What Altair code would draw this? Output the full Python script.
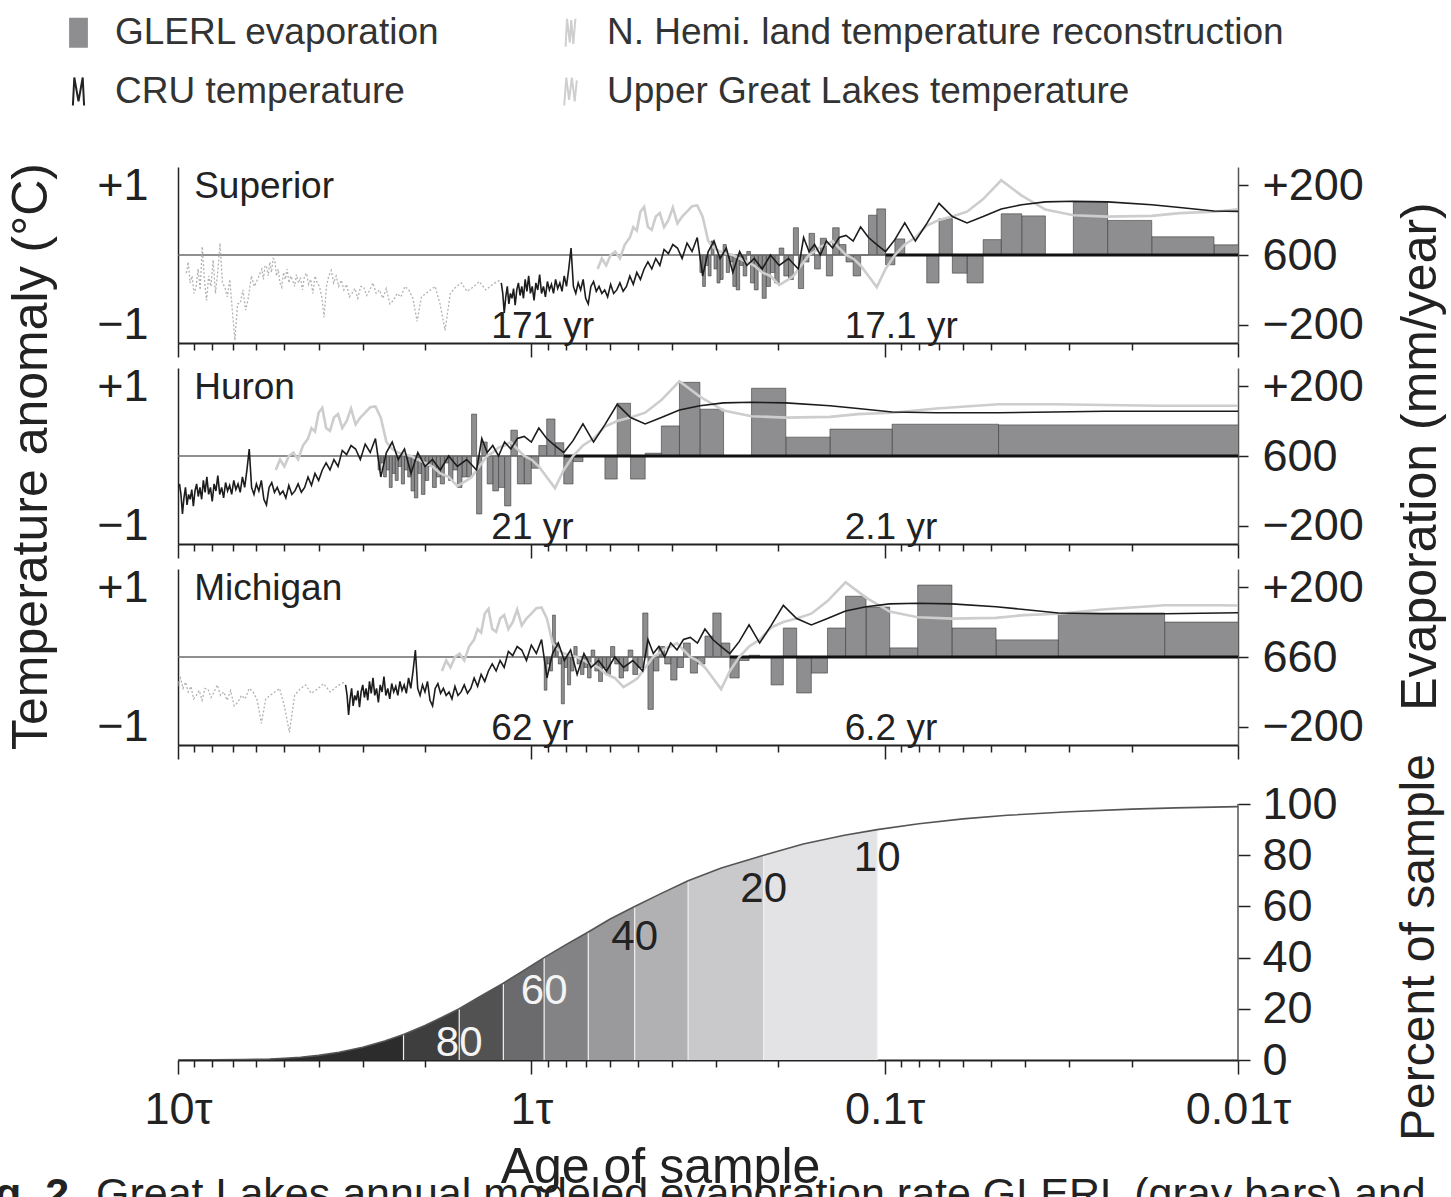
import altair as alt
import pandas as pd

FONT = "Liberation Sans"
INK = "#222222"

# ---------------- data ----------------
LAKES = ["Superior", "Huron", "Michigan"]
TAU_YR = [171, 21, 62]          # residence time (yr) of each lake
MEAN_EVAP = [600, 600, 660]     # mean evaporation (mm/year)

# CRU temperature anomaly (deg C) : (age in years, value)
CRU = [(208,-0.40),(206,-0.55),(204,-0.83),(202,-0.60),(200,-0.45),(198,-0.70),(196,-0.55),(194,-0.62),
       (192,-0.48),(190,-0.72),(188,-0.50),(186,-0.40),(184,-0.58),(182,-0.45),(180,-0.62),(178,-0.35),
       (176,-0.52),(174,-0.30),(172,-0.55),(170,-0.45),(168,-0.65),(166,-0.40),(164,-0.50),(162,-0.28),
       (160,-0.55),(158,-0.45),(156,-0.60),(154,-0.38),(152,-0.50),(150,-0.42),(148,-0.55),(146,-0.35),
       (144,-0.48),(142,-0.40),(140,-0.52),(138,-0.30),(136,-0.45),(134,-0.20),(132,0.10),(130,-0.45),
       (128,-0.55),(126,-0.40),(124,-0.50),(122,-0.35),(120,-0.62),(118,-0.70),(116,-0.45),(114,-0.38),
       (112,-0.52),(110,-0.45),(108,-0.55),(106,-0.50),(104,-0.60),(102,-0.42),(100,-0.55),(98,-0.50),
       (96,-0.40),(94,-0.52),(92,-0.45),(90,-0.30),(88,-0.42),(86,-0.25),(84,-0.35),(82,-0.20),
       (80,-0.10),(78,-0.20),(76,-0.05),(74,-0.15),(72,0.08),(70,0.02),(68,0.15),(66,0.10),
       (64,-0.05),(62,0.17),(60,0.05),(58,0.25),(56,-0.30),(54,0.05),(52,0.20),(50,-0.05),
       (48,0.10),(46,-0.25),(44,0.05),(42,-0.15),(40,-0.05),(38,-0.20),(36,0.00),(34,-0.15),
       (32,-0.05),(30,-0.20),(29,0.25),(28,0.05),(27,0.15),(26,0.00),(25,0.20),(24,0.10),
       (23,0.25),(22,0.28),(21,0.20),(20,0.40),(19,0.25),(18,0.15),(17,0.05),(16,0.22),
       (15,0.46),(14,0.20),(13,0.45),(12,0.74),(11,0.55),(10,0.46),(9,0.55),(8,0.66),
       (7,0.72),(6,0.76),(5,0.77),(4,0.76),(3,0.72),(2.5,0.68),(2,0.63),(1.5,0.62),
       (1,0.62),(0.7,0.63),(0.5,0.64),(0.35,0.64),(0.21,0.64)]

# Upper Great Lakes temperature anomaly (deg C)
UGL = [(111,-0.20),(108,-0.05),(105,-0.15),(102,0.00),(99,0.05),(96,-0.05),(93,0.15),(90,0.25),
       (88,0.40),(86,0.35),(84,0.62),(82,0.69),(80,0.40),(78,0.36),(76,0.55),(74,0.60),
       (72,0.40),(70,0.50),(68,0.68),(66,0.45),(64,0.55),(62,0.62),(60,0.70),(58,0.71),
       (56,0.55),(54,0.20),(52,0.10),(50,0.05),(48,0.02),(46,0.00),(44,-0.05),(42,-0.10),
       (40,-0.15),(38,-0.25),(36,-0.30),(34,-0.43),(32,-0.35),(31,-0.30),(30,-0.20),(29,-0.10),
       (28,0.00),(27,0.05),(26,0.12),(25,0.15),(24,0.20),(23,0.10),(22,0.00),(21,-0.05),
       (20,-0.15),(19,-0.30),(18,-0.46),(17,-0.20),(16,0.00),(15,0.15),(14,0.25),(13,0.42),
       (12,0.50),(11,0.55),(10,0.62),(9,0.80),(8,1.07),(7,0.85),(6,0.65),(5,0.57),
       (4,0.55),(3,0.56),(2.5,0.60),(2,0.62),(1.5,0.68),(1,0.74),(0.7,0.74),(0.5,0.73),
       (0.35,0.72),(0.21,0.72)]

# N. Hemisphere land temperature reconstruction (deg C)
NHEMI = [(1620,-0.26),(1600,-0.10),(1580,-0.40),(1560,-0.30),(1540,-0.55),(1520,-0.46),(1500,-0.20),
         (1480,-0.50),(1460,0.12),(1440,-0.35),(1420,-0.65),(1400,-0.30),(1380,-0.45),(1360,-0.07),
         (1340,-0.55),(1320,-0.25),(1300,0.17),(1280,-0.40),(1260,-0.46),(1240,-0.60),(1220,-0.35),
         (1200,-0.80),(1180,-1.22),(1160,-0.70),(1140,-0.69),(1120,-0.50),(1100,-0.79),(1080,-0.60),
         (1060,-0.30),(1040,-0.45),(1020,-0.36),(1000,-0.25),(990,-0.20),(980,-0.35),(970,-0.15),
         (960,-0.17),(950,-0.30),(940,-0.10),(930,-0.25),(920,-0.05),(910,-0.07),(900,-0.30),
         (890,-0.20),(880,-0.40),(870,-0.46),(860,-0.25),(850,-0.35),(840,-0.20),(830,-0.40),
         (820,-0.30),(810,-0.36),(800,-0.45),(790,-0.28),(780,-0.40),(770,-0.32),(760,-0.50),
         (750,-0.30),(740,-0.26),(730,-0.42),(720,-0.35),(710,-0.55),(700,-0.30),(690,-0.40),
         (680,-0.45),(670,-0.60),(660,-0.89),(650,-0.45),(640,-0.30),(630,-0.22),(620,-0.40),
         (610,-0.30),(600,-0.45),(590,-0.36),(580,-0.50),(570,-0.42),(560,-0.60),(550,-0.55),
         (540,-0.48),(530,-0.62),(520,-0.45),(510,-0.46),(500,-0.58),(490,-0.50),(480,-0.40),
         (470,-0.55),(460,-0.50),(450,-0.62),(440,-0.48),(430,-0.70),(420,-0.65),(410,-0.55),
         (400,-0.60),(390,-0.45),(380,-0.50),(370,-0.62),(360,-0.95),(350,-0.60),(340,-0.55),
         (330,-0.50),(320,-0.45),(310,-0.70),(300,-1.08),(290,-0.55),(280,-0.46),(270,-0.40),
         (260,-0.52),(250,-0.46),(240,-0.38),(230,-0.50),(220,-0.42),(210,-0.36)]

# GLERL evaporation anomaly (mm/year); entry k is the year of age k-1 .. k
GLERL = {
    "Superior": [20,29,52,99,151,0,112,118,44,-80,-52,104,-80,0,0,46,-28,132,114,0,
                 -60,-20,30,78,-60,48,-40,62,-20,-96,78,-70,-60,20,-80,-50,-90,-124,-40,-100,
                 -80,10,-60,-30,-100,-90,-20,-50,30,-70,-80,-40,40,-60,-30,-90,-50],
    "Huron":    [89,91,77,54,194,0,134,211,86,8,-66,151,-66,0,0,-16,-80,38,106,30,
                 -35,-80,-80,74,-143,-90,-100,-80,40,-166,120,-60,-60,-90,-40,-70,-20,-80,-60,-90,
                 -30,-70,-110,-50,-120,-100,-60,-40,-80,-30,-70,-50,-90,-40,-60,-20,-40],
    "Michigan": [100,126,49,83,206,26,143,174,83,-46,-103,83,-80,0,5,-10,-60,40,126,60,
                 -20,-46,40,-30,-66,-20,30,-40,-150,126,-30,-50,20,-40,-60,-20,30,-50,-30,-70,
                 -40,20,-60,-30,-50,-20,30,-40,-80,-30,-134,-20,40,120,-40,-20,-95],
}
FIRST_BAR_START_YR = 0.2
THICK_ZERO_FROM_AGE = 17

# cumulative percent of sample vs age of sample (in tau)
CURVE = [(10,0),(8,0.03),(6.5,0.15),(5.5,0.4),(5,0.7),(4.5,1.1),(4,1.8),(3.5,3),(3,5),(2.6,7.4),
         (2.3,10),(2,13.5),(1.8,16.5),(1.6,20),(1.4,24.7),(1.2,30),(1.05,35),(0.92,40),(0.8,45),
         (0.69,50),(0.6,55),(0.51,60),(0.43,65),(0.36,70),(0.29,75),(0.22,80),(0.17,84.4),
         (0.13,87.8),(0.105,90),(0.08,92.3),(0.06,94.2),(0.045,95.6),(0.03,97),(0.02,98),
         (0.015,98.5),(0.01,99)]
BAND_EDGES = [10, 2.3, 1.6, 1.2, 0.92, 0.69, 0.51, 0.36, 0.22, 0.105]
BAND_COLORS = ["#2c2c2c", "#3e3e3e", "#525252", "#6b6b6d", "#838385", "#9a9a9c",
               "#b1b1b3", "#c9c9cb", "#e3e3e5"]
PCT_LABELS = ["80", "60", "40", "20", "10"]
PCT_LABEL_T = [1.6, 0.92, 0.51, 0.22, 0.105]
PCT_LABEL_Y = [6.5, 27, 48, 67, 79]
PCT_LABEL_COLOR = ["#f4f4f4", "#f4f4f4", INK, INK, INK]

LEGEND_NAMES = ["GLERL evaporation", "N. Hemi. land temperature reconstruction",
                "CRU temperature", "Upper Great Lakes temperature"]
LEGEND_FILL = ["#8e8e90", "transparent", "transparent", "transparent"]
LEGEND_STROKE = ["#8e8e90", "#cfcfcf", "#222222", "#cfcfcf"]
LEGEND_SHAPES = ["M-0.6,-1L0.6,-1L0.6,1L-0.6,1Z",
                 "M-0.35,1L-0.25,-1L-0.05,0.7L0.05,-0.9L0.2,0.8L0.35,-1",
                 "M-0.4,1L-0.3,-1L0,0.7L0.3,-1L0.4,1",
                 "M-0.45,1L-0.3,-1L-0.1,0.6L0.1,-1L0.3,0.7L0.45,-0.8"]

CAPTION_BOLD = "Fig. 2."
CAPTION_TEXT = "Great Lakes annual modeled evaporation rate GLERL (gray bars) and"

# ---------------- scales / axes ----------------
W = 1060
PANEL_H = 176
BOTTOM_H = 290
LABEL_FS = 45
TITLE_FS = 50
XTICKS = [10] + [round(m * 10 ** e, 4) for e in (0, -1, -2) for m in range(9, 0, -1)]
DECADE_TEST = "indexof([10, 1, 0.1, 0.01], datum.value) >= 0"
XSCALE = alt.Scale(type="log", domain=[0.01, 10], reverse=True, nice=False)
YT_SCALE = alt.Scale(domain=[-1.26, 1.26], nice=False, zero=False)
YE_SCALE = alt.Scale(domain=[-252, 252], nice=False, zero=False)

TICKSIZE = {"condition": {"test": DECADE_TEST, "value": 14}, "value": 7}

XAXIS_PANEL = alt.Axis(values=XTICKS, labels=False, ticks=True, tickSize=TICKSIZE,
                       tickColor=INK, tickWidth=1.5, domainColor=INK, domainWidth=2,
                       grid=False, title=None)
XAXIS_BOTTOM = alt.Axis(values=XTICKS, tickSize=TICKSIZE, tickColor=INK, tickWidth=1.5,
                        domainColor=INK, domainWidth=2, grid=False,
                        labelExpr=f"{DECADE_TEST} ? datum.value + 'τ' : ''",
                        labelFontSize=LABEL_FS, labelPadding=13, labelFlush=False,
                        labelOverlap=False, title="Age of sample", titleFontSize=TITLE_FS,
                        titlePadding=10, titleX=482)


def X(field):
    return alt.X(f"{field}:Q", scale=XSCALE, axis=XAXIS_PANEL)


def lake_panel(i, legend=False):
    name, tau, mean = LAKES[i], TAU_YR[i], MEAN_EVAP[i]
    middle = (i == 1)
    left_axis = alt.Axis(values=[-1, 1], labelExpr="datum.value > 0 ? '+1' : '−1'",
                         ticks=False, domainColor=INK, domainWidth=1.5, labelFontSize=LABEL_FS,
                         labelPadding=30, grid=False, orient="left",
                         title="Temperature anomaly (°C)" if middle else None,
                         titleFontSize=TITLE_FS, titlePadding=40)
    right_axis = alt.Axis(values=[-200, 0, 200],
                          labelExpr=("datum.value > 0 ? '+' + datum.value : "
                                     f"(datum.value < 0 ? '−' + abs(datum.value) : '{mean}')"),
                          tickSize=10, tickColor=INK, tickWidth=1.5, domainColor="#555",
                          domainWidth=1.5, labelFontSize=LABEL_FS, labelPadding=14, grid=False,
                          orient="right",
                          title="Evaporation (mm/year)" if middle else None,
                          titleFontSize=TITLE_FS, titlePadding=32, titleAngle=270,
                          titleBaseline="top")

    def YT(field):
        return alt.Y(f"{field}:Q", scale=YT_SCALE, axis=left_axis)

    def series(pairs):
        return pd.DataFrame({"t": [a / tau for a, _ in pairs], "v": [v for _, v in pairs]})

    vals = GLERL[name]
    bars_df = pd.DataFrame({
        "t0": [max(k - 1, FIRST_BAR_START_YR) / tau for k in range(1, len(vals) + 1)],
        "t1": [k / tau for k in range(1, len(vals) + 1)],
        "e": vals,
        "e0": [0] * len(vals),
    })
    bars = alt.Chart(bars_df).mark_rect(fill="#8e8e90", stroke="#3a3a3a", strokeWidth=0.6,
                                        clip=True).encode(
        x=X("t0"), x2="t1",
        y=alt.Y("e:Q", scale=YE_SCALE, axis=right_axis), y2="e0")

    zero_df = pd.DataFrame({"v": [0]})
    zero = alt.Chart(zero_df).mark_rule(color="#6a6a6a", strokeWidth=1.4).encode(y=YT("v"))
    thick_df = pd.DataFrame({"t0": [THICK_ZERO_FROM_AGE / tau], "t1": [0.01], "v": [0]})
    thick = alt.Chart(thick_df).mark_rule(color="#111111", strokeWidth=3.2, clip=True).encode(
        x=X("t0"), x2="t1", y=YT("v"))

    recon = alt.Chart(series(NHEMI)).mark_line(color="#b2b2b2", strokeWidth=1.3,
                                                strokeDash=[2, 2], clip=True).encode(
        x=X("t"), y=YT("v"))
    ugl = alt.Chart(series(UGL)).mark_line(color="#cdcdcd", strokeWidth=2.6, clip=True).encode(
        x=X("t"), y=YT("v"))
    cru = alt.Chart(series(CRU)).mark_line(color="#1c1c1c", strokeWidth=1.6, clip=True).encode(
        x=X("t"), y=YT("v"))

    name_df = pd.DataFrame({"t": [9.0], "v": [0.98], "label": [name]})
    name_txt = alt.Chart(name_df).mark_text(align="left", baseline="middle", fontSize=37,
                                            color=INK, font=FONT).encode(
        x=X("t"), y=YT("v"), text="label:N")
    yr_df = pd.DataFrame({"t": [1.0, 0.1], "v": [-1.26, -1.26],
                          "label": [f"{tau} yr", f"{tau / 10:g} yr"]})
    yr_txt = alt.Chart(yr_df).mark_text(align="left", baseline="alphabetic", dx=-40, dy=-5,
                                        fontSize=37, color=INK, font=FONT).encode(
        x=X("t"), y=YT("v"), text="label:N")

    temp_layers = [zero, thick, recon, ugl, cru, name_txt, yr_txt]
    if legend:
        leg = alt.Legend(title=None, orient="none", legendX=-118, legendY=-153, columns=2,
                         direction="horizontal", columnPadding=112, rowPadding=21,
                         symbolSize=784, symbolStrokeWidth=2, symbolOpacity=1,
                         labelFontSize=37, labelColor="#333333", labelFont=FONT,
                         labelOffset=18, labelLimit=0)
        leg_df = pd.DataFrame({"series": LEGEND_NAMES})
        leg_layer = alt.Chart(leg_df).mark_point(filled=True, opacity=0).encode(
            x=alt.value(0), y=alt.value(0),
            shape=alt.Shape("series:N", scale=alt.Scale(domain=LEGEND_NAMES, range=LEGEND_SHAPES),
                            legend=leg),
            fill=alt.Fill("series:N", scale=alt.Scale(domain=LEGEND_NAMES, range=LEGEND_FILL),
                          legend=leg),
            stroke=alt.Stroke("series:N", scale=alt.Scale(domain=LEGEND_NAMES, range=LEGEND_STROKE),
                              legend=leg))
        temp_layers.append(leg_layer)

    temp = alt.layer(*temp_layers)
    return alt.layer(bars, temp).resolve_scale(y="independent").properties(width=W, height=PANEL_H)


# ---------------- bottom panel ----------------
band_rows = []
for b in range(len(BAND_COLORS)):
    hi, lo = BAND_EDGES[b], BAND_EDGES[b + 1]
    for t, p in CURVE:
        if lo <= t <= hi:
            band_rows.append({"t": t, "p": p, "band": f"b{b}"})
bands_df = pd.DataFrame(band_rows)
curve_df = pd.DataFrame({"t": [t for t, _ in CURVE], "p": [p for _, p in CURVE]})
edge_p = dict(CURVE)
sep_df = pd.DataFrame({"t": BAND_EDGES[1:], "p": [edge_p[e] for e in BAND_EDGES[1:]], "z": 0})
lab_df = pd.DataFrame({"t": PCT_LABEL_T, "p": PCT_LABEL_Y, "label": PCT_LABELS,
                       "c": PCT_LABEL_COLOR})
rule_df = pd.DataFrame({"t": [0.01], "a": [0], "b": [100]})
cap_df = pd.DataFrame({"bold": [CAPTION_BOLD], "text": [CAPTION_TEXT]})

YP_SCALE = alt.Scale(domain=[0, 113.3], nice=False, zero=False)
YP_AXIS = alt.Axis(values=[0, 20, 40, 60, 80, 100], orient="right", domain=False, tickSize=12,
                   tickColor=INK, tickWidth=1.5, labelFontSize=LABEL_FS, labelPadding=12,
                   grid=False, title="Percent of sample", titleFontSize=48, titlePadding=58,
                   titleAngle=270, titleBaseline="top", titleY=177)


def XB(field):
    return alt.X(f"{field}:Q", scale=XSCALE, axis=XAXIS_BOTTOM)


def YP(field):
    return alt.Y(f"{field}:Q", scale=YP_SCALE, axis=YP_AXIS, stack=None)


bands = alt.Chart(bands_df).mark_area(clip=True).encode(
    x=XB("t"), y=YP("p"),
    color=alt.Color("band:N", scale=alt.Scale(domain=[f"b{b}" for b in range(len(BAND_COLORS))],
                                              range=BAND_COLORS), legend=None))
seps = alt.Chart(sep_df).mark_rule(color="#f0f0f0", strokeWidth=1.2).encode(
    x=XB("t"), y=YP("z"), y2="p")
curve = alt.Chart(curve_df).mark_line(color="#555555", strokeWidth=1.6, clip=True).encode(
    x=XB("t"), y=YP("p"))
labels = alt.Chart(lab_df).mark_text(fontSize=42, align="center", baseline="middle",
                                     font=FONT).encode(
    x=XB("t"), y=YP("p"), text="label:N", color=alt.Color("c:N", scale=None))
right_rule = alt.Chart(rule_df).mark_rule(color="#555555", strokeWidth=1.5).encode(
    x=XB("t"), y=YP("a"), y2="b")
# figure caption (cut by the page edge in the reference)
cap_bold = alt.Chart(cap_df).mark_text(align="right", baseline="alphabetic", fontSize=43,
                                       fontWeight="bold", color=INK, font=FONT).encode(
    x=alt.value(-97), y=alt.value(438), text="bold:N")
cap_text = alt.Chart(cap_df).mark_text(align="left", baseline="alphabetic", fontSize=43,
                                       color=INK, font=FONT).encode(
    x=alt.value(-82), y=alt.value(438), text="text:N")

bottom = alt.layer(bands, seps, curve, labels, right_rule, cap_bold, cap_text).properties(
    width=W, height=BOTTOM_H)

chart = alt.vconcat(
    lake_panel(0, legend=True), lake_panel(1), lake_panel(2), bottom, spacing=25, bounds="flush"
).properties(
    padding={"left": -44, "top": 14, "right": 5, "bottom": 5}
).configure(font=FONT).configure_axis(
    labelFont=FONT, titleFont=FONT, labelColor=INK, titleColor=INK, titleFontWeight="normal"
).configure_view(stroke=None)

chart.save("out.html", embed_options={"renderer": "svg", "actions": False})
